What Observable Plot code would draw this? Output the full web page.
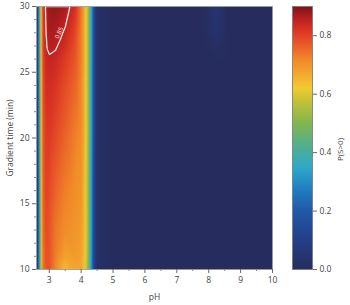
<!DOCTYPE html>
<html><head><meta charset="utf-8">
<script src="https://cdn.jsdelivr.net/npm/d3@7"></script>
<script src="https://cdn.jsdelivr.net/npm/@observablehq/plot@0.6"></script>
<style>
body{margin:0;background:#fff}
#wrap{display:flex;width:350px;height:305px}
svg{font-family:"Open Sans",sans-serif}
</style>
</head><body><div id="wrap"></div>
<script>
// pH grid columns
const pH = [2.6, 2.65, 2.7, 2.75, 2.8, 2.9, 3.0, 3.2, 3.5, 3.8, 4.0, 4.1, 4.2, 4.3, 4.4, 4.5, 5, 7, 7.8, 8.2, 8.6, 10];
// gradient time rows (min)
const gradientTime = [10, 11, 13, 16, 20, 24, 26, 27, 28, 30];
// P(S>0), one row per gradient time, one value per pH column
const probability = [
  [0.0, 0.16, 0.38, 0.60, 0.74, 0.78, 0.78, 0.72, 0.64, 0.67, 0.67, 0.63, 0.54, 0.36, 0.12, 0.02, 0, 0, 0, 0, 0, 0],
  [0.0, 0.16, 0.38, 0.60, 0.74, 0.78, 0.78, 0.73, 0.68, 0.69, 0.68, 0.64, 0.55, 0.37, 0.12, 0.02, 0, 0, 0, 0, 0, 0],
  [0.0, 0.16, 0.38, 0.60, 0.75, 0.79, 0.78, 0.74, 0.71, 0.70, 0.69, 0.65, 0.56, 0.38, 0.13, 0.02, 0, 0, 0, 0, 0, 0],
  [0.0, 0.16, 0.38, 0.61, 0.76, 0.80, 0.79, 0.76, 0.73, 0.71, 0.70, 0.65, 0.56, 0.38, 0.13, 0.02, 0, 0, 0, 0, 0, 0],
  [0.0, 0.17, 0.39, 0.62, 0.77, 0.81, 0.81, 0.79, 0.76, 0.73, 0.71, 0.66, 0.57, 0.39, 0.14, 0.02, 0, 0, 0, 0, 0, 0],
  [0.0, 0.17, 0.40, 0.63, 0.78, 0.83, 0.83, 0.82, 0.79, 0.76, 0.72, 0.66, 0.57, 0.39, 0.14, 0.02, 0, 0, 0, 0, 0, 0],
  [0.0, 0.18, 0.40, 0.64, 0.79, 0.84, 0.845, 0.84, 0.81, 0.78, 0.73, 0.67, 0.57, 0.40, 0.14, 0.02, 0, 0, 0, 0, 0, 0],
  [0.0, 0.18, 0.41, 0.65, 0.80, 0.85, 0.86, 0.855, 0.83, 0.79, 0.73, 0.67, 0.57, 0.40, 0.14, 0.02, 0, 0, 0, 0.015, 0, 0],
  [0.0, 0.18, 0.41, 0.65, 0.80, 0.855, 0.87, 0.865, 0.845, 0.80, 0.73, 0.67, 0.57, 0.40, 0.14, 0.02, 0, 0, 0, 0.03, 0, 0],
  [0.0, 0.18, 0.42, 0.66, 0.81, 0.86, 0.88, 0.885, 0.87, 0.83, 0.74, 0.67, 0.57, 0.40, 0.14, 0.02, 0, 0, 0, 0.05, 0, 0]
];
const contourLevels = [0.85];
const contourLabels = [{text: "0.85", pH: 3.31, time: 28.0}];

const xTicks = [3, 4, 5, 6, 7, 8, 9, 10];
const xMinor = [3.5, 4.5, 5.5, 6.5, 7.5, 8.5, 9.5];
const yTicks = [10, 15, 20, 25, 30];
const yMinor = [11, 12, 13, 14, 16, 17, 18, 19, 21, 22, 23, 24, 26, 27, 28, 29];
const colorTicks = [0.0, 0.2, 0.4, 0.6, 0.8];

const colorStops = [0, 0.10, 0.20, 0.28, 0.35, 0.42, 0.50, 0.58, 0.62, 0.66, 0.72, 0.78, 0.82, 0.86, 0.90];
const colorRange = ["#262d5e", "#233f88", "#2058a8", "#1f82c2", "#30a8c8", "#50ae92", "#82b650", "#c8c238", "#f0cc30", "#f4ae30", "#f08828", "#e85228", "#d83424", "#b81f20", "#7e1518"];

const grid = [];
gradientTime.forEach((t, i) => pH.forEach((p, j) => grid.push({pH: p, time: t, v: probability[i][j]})));

const colorScale = {type: "linear", domain: colorStops, range: colorRange, clamp: true};

const main = Plot.plot({
  width: 280, height: 305,
  marginLeft: 36, marginRight: 8, marginTop: 6, marginBottom: 36,
  style: {fontSize: "8.5px", fontFamily: "Open Sans, sans-serif", color: "#444"},
  x: {domain: [2.6, 10]},
  y: {domain: [10, 30]},
  color: colorScale,
  marks: [
    Plot.raster(grid, {x: "pH", y: "time", fill: "v", interpolate: "barycentric", x1: 2.6, x2: 10, y1: 10, y2: 30}),
    Plot.contour(grid, {x: "pH", y: "time", value: "v", thresholds: contourLevels, interpolate: "barycentric",
      x1: 2.6, x2: 10, y1: 10, y2: 30, fill: "none", stroke: "#f6e4e0", strokeWidth: 1.3}),
    Plot.text(contourLabels, {x: "pH", y: "time", text: "text", rotate: -67, fill: "#f6e4e0", fontSize: 6}),
    Plot.frame({stroke: "#9a9a9a", strokeWidth: 0.8}),
    Plot.axisX({ticks: xTicks, tickSize: 4, tickPadding: 3, label: "pH", labelAnchor: "center", labelArrow: "none", labelOffset: 30, stroke: "#666"}),
    Plot.axisX({ticks: xMinor, tickSize: 2, text: null, label: null, stroke: "#888"}),
    Plot.axisY({ticks: yTicks, tickSize: 4, tickPadding: 3, label: "Gradient time (min)", labelAnchor: "center", labelArrow: "none", labelOffset: 30, stroke: "#666"}),
    Plot.axisY({ticks: yMinor, tickSize: 2, text: null, label: null, stroke: "#888"})
  ]
});

const bar = Plot.plot({
  width: 70, height: 305,
  marginLeft: 12, marginRight: 38, marginTop: 6, marginBottom: 36,
  style: {fontSize: "8.5px", fontFamily: "Open Sans, sans-serif", color: "#444"},
  x: {domain: [0, 1], axis: null},
  y: {domain: [0, 0.9]},
  color: colorScale,
  marks: [
    Plot.raster({fill: (x, y) => y, x1: 0, x2: 1, y1: 0, y2: 0.9}),
    Plot.frame({stroke: "#777", strokeWidth: 0.8}),
    Plot.axisY({anchor: "right", ticks: colorTicks, tickFormat: ".1f", tickSize: 4, tickPadding: 3, label: null, stroke: "#666"}),
    Plot.text(["P(S>0)"], {frameAnchor: "right", dx: 28, rotate: -90, fontSize: 8, fill: "#444"})
  ]
});

const wrap = document.getElementById("wrap");
wrap.appendChild(main);
wrap.appendChild(bar);
</script>
</body></html>
